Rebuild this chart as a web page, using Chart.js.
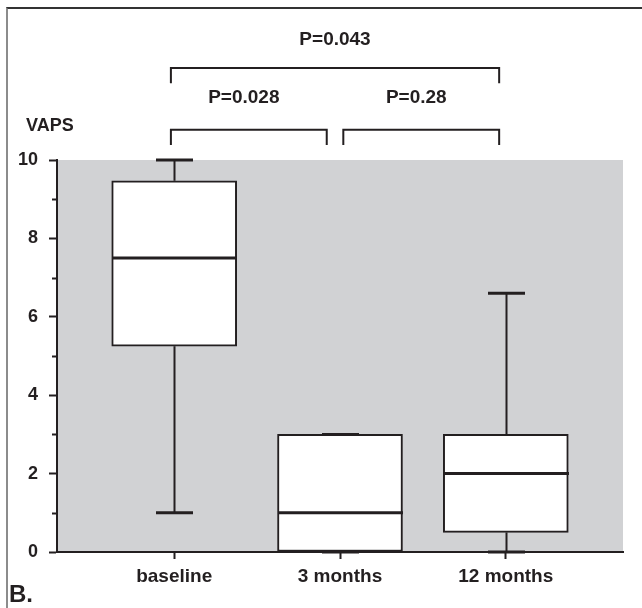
<!DOCTYPE html>
<html>
<head>
<meta charset="utf-8">
<script src="https://cdn.jsdelivr.net/npm/chart.js@4"></script>
<style>
  body { margin: 0; background: #fff; }
  #wrap { position: relative; width: 642px; height: 608px; }
  #frame { position: absolute; left: 6px; top: 7px; right: 0; bottom: 0;
           border-top: 2px solid #333; border-left: 2px solid #8c8c8c; pointer-events: none; }
</style>
</head>
<body>
<div id="wrap">
  <canvas id="vaps-chart" width="642" height="608"></canvas>
  <div id="frame"></div>
</div>
<script>
// Box plot values
const categories = ['baseline', '3 months', '12 months'];
const whiskerLow = [1, 0, 0];
const q1 = [5.25, 0, 0.5];
const median = [7.5, 1, 2];
const q3 = [9.47, 3, 3];
const whiskerHigh = [10, 3, 6.6];
const yTicks = [0, 2, 4, 6, 8, 10];

// Significance brackets (x in category units, y in VAPS units)
const pLabels = ['P=0.043', 'P=0.028', 'P=0.28'];
const bracketFrom = [0.98, 0.98, 2.02];
const bracketTo = [2.96, 1.92, 2.96];
const bracketLevel = [12.35, 10.77, 10.77];
const bracketLeg = [11.96, 10.38, 10.38];
const labelX = [1.97, 1.42, 2.46];
const labelLevel = [13.06, 11.58, 11.58];

const ink = '#231f20';
const font = 'Liberation Sans, Arial, sans-serif';

const boxData = categories.map((c, i) => ({ x: i + 1, y: [q1[i], q3[i]] }));

// Grey plot background
const backgroundPlugin = {
    id: 'plotBackground',
    beforeDraw(chart) {
        const { ctx, chartArea } = chart;
        ctx.save();
        ctx.fillStyle = '#d1d2d4';
        ctx.fillRect(chartArea.left, chartArea.top,
            chartArea.right - chartArea.left, chartArea.bottom - chartArea.top);
        ctx.restore();
    }
};

// Whiskers, medians, minor ticks, brackets and labels
const boxPlotPlugin = {
    id: 'boxExtras',
    afterDatasetsDraw(chart) {
        const { ctx } = chart;
        const xs = chart.scales.x;
        const ys = chart.scales.y;
        const half = 62.5;
        const capHalf = 18.5;
        ctx.save();
        ctx.strokeStyle = ink;
        ctx.lineWidth = 2;

        const line = (x1, y1, x2, y2) => {
            ctx.beginPath();
            ctx.moveTo(x1, y1);
            ctx.lineTo(x2, y2);
            ctx.stroke();
        };

        categories.forEach((c, i) => {
            const cx = Math.round(xs.getPixelForValue(i + 1)) + 0.5;
            // whiskers
            const yLow = ys.getPixelForValue(whiskerLow[i]);
            const yQ1 = ys.getPixelForValue(q1[i]);
            const yQ3 = ys.getPixelForValue(q3[i]);
            const yHigh = ys.getPixelForValue(whiskerHigh[i]);
            ctx.lineWidth = 2;
            if (whiskerHigh[i] > q3[i]) line(cx, yQ3, cx, yHigh);
            if (whiskerLow[i] < q1[i]) line(cx, yQ1, cx, yLow);
            ctx.lineWidth = 3;
            line(cx - capHalf, yHigh, cx + capHalf, yHigh);
            line(cx - capHalf, yLow, cx + capHalf, yLow);
            // median
            line(cx - half, yMed(i), cx + half, yMed(i));
        });

        function yMed(i) { return ys.getPixelForValue(median[i]); }

        // minor ticks on the y axis
        ctx.lineWidth = 2;
        const left = chart.chartArea.left;
        for (let v = 1; v < 10; v += 2) {
            const y = Math.round(ys.getPixelForValue(v)) + 0.5;
            line(left - 5, y, left, y);
        }

        // significance brackets
        pLabels.forEach((p, i) => {
            const x1 = xs.getPixelForValue(bracketFrom[i]);
            const x2 = xs.getPixelForValue(bracketTo[i]);
            const yTop = ys.getPixelForValue(bracketLevel[i]);
            const yLeg = ys.getPixelForValue(bracketLeg[i]);
            ctx.beginPath();
            ctx.moveTo(x1, yLeg);
            ctx.lineTo(x1, yTop);
            ctx.lineTo(x2, yTop);
            ctx.lineTo(x2, yLeg);
            ctx.stroke();

            ctx.fillStyle = ink;
            ctx.font = 'bold 19px ' + font;
            ctx.textAlign = 'center';
            ctx.textBaseline = 'middle';
            ctx.fillText(p, xs.getPixelForValue(labelX[i]), ys.getPixelForValue(labelLevel[i]));
        });

        // axis title and panel letter
        ctx.fillStyle = ink;
        ctx.textAlign = 'left';
        ctx.textBaseline = 'middle';
        ctx.font = 'bold 18px ' + font;
        ctx.fillText('VAPS', 26, 126);
        ctx.font = 'bold 24px ' + font;
        ctx.fillText('B.', 9, 595);
        ctx.restore();
    }
};

const vapsChart = new Chart(
    document.getElementById('vaps-chart'),
    {
        type: 'bar',
        data: {
            datasets: [
                {
                    label: 'VAPS',
                    data: boxData,
                    backgroundColor: '#ffffff',
                    borderColor: ink,
                    borderWidth: 2,
                    borderSkipped: false,
                    barThickness: 125
                }
            ]
        },
        options: {
            responsive: false,
            animation: false,
            layout: {
                padding: { left: 0, right: 19, top: 160, bottom: 0 }
            },
            plugins: {
                legend: { display: false },
                tooltip: { enabled: false }
            },
            scales: {
                x: {
                    type: 'linear',
                    min: 0.293,
                    max: 3.707,
                    offset: false,
                    afterBuildTicks: (scale) => {
                        scale.ticks = categories.map((c, i) => ({ value: i + 1 }));
                    },
                    afterFit: (scale) => { scale.height = 56; },
                    border: { color: ink, width: 2 },
                    grid: {
                        offset: false,
                        drawOnChartArea: false,
                        tickLength: 7,
                        tickColor: ink,
                        tickWidth: 2
                    },
                    ticks: {
                        callback: (value) => categories[value - 1],
                        color: ink,
                        font: { family: font, size: 19, weight: 'bold' },
                        padding: 6,
                        maxRotation: 0
                    }
                },
                y: {
                    min: 0,
                    max: 10,
                    afterBuildTicks: (scale) => {
                        scale.ticks = yTicks.map(v => ({ value: v }));
                    },
                    afterFit: (scale) => { scale.width = 57; },
                    border: { color: ink, width: 2 },
                    grid: {
                        drawOnChartArea: false,
                        tickLength: 8,
                        tickColor: ink,
                        tickWidth: 2
                    },
                    ticks: {
                        color: ink,
                        font: { family: font, size: 18, weight: 'bold' },
                        padding: 11
                    }
                }
            }
        },
        plugins: [backgroundPlugin, boxPlotPlugin]
    }
);
</script>
</body>
</html>
